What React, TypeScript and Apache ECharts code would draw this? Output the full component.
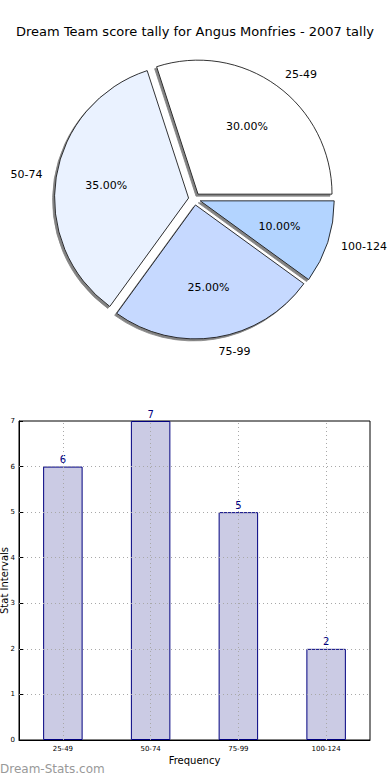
import React, { useEffect, useRef } from "react";
import * as echarts from "echarts";

const categories = ["25-49", "50-74", "75-99", "100-124"];
const counts = [6, 7, 5, 2];
const pieColors = ["#ffffff", "#eaf2ff", "#c6d9ff", "#b3d4ff"];
const yTicks = [0, 1, 2, 3, 4, 5, 6, 7];

const FONT = "DejaVu Sans";

export default function App() {
  const ref = useRef<HTMLDivElement>(null);
  useEffect(() => {
    if (!ref.current) return;
    const chart = echarts.init(ref.current, undefined, { renderer: "svg" });
    const R = 134;
    const center = [194.5, 199];
    const pieData = categories.map((c, i) => ({
      name: c,
      value: counts[i],
      selected: true,
      itemStyle: { color: pieColors[i] },
    }));
    const labelData = categories.map((c, i) => ({
      name: c,
      value: counts[i],
      selected: true,
    }));
    chart.setOption({
      animation: false,
      title: {
        text: "Dream Team score tally for Angus Monfries - 2007 tally",
        left: "center",
        top: 20,
        textStyle: { fontFamily: FONT, fontSize: 13, fontWeight: "normal", color: "#000" },
      },
      graphic: [
        {
          type: "text",
          left: 0,
          top: 763,
          style: {
            text: "Dream-Stats.com",
            fontFamily: FONT,
            fontSize: 12,
            fontWeight: "normal",
            fill: "#999999",
          },
        },
      ],
      grid: {
        left: 19,
        right: 20,
        top: 421,
        bottom: 40,
        show: true,
        borderColor: "#000",
        borderWidth: 1,
        containLabel: false,
        outerBoundsMode: "none",
      },
      xAxis: {
        type: "category",
        data: categories,
        axisLine: { lineStyle: { color: "#000" } },
        axisTick: { alignWithLabel: true, inside: true, length: 4, lineStyle: { color: "#000" } },
        axisLabel: { fontFamily: FONT, fontSize: 7, color: "#000", margin: 5 },
        name: "Frequency",
        nameLocation: "middle",
        nameGap: 15,
        nameMoveOverlap: false,
        nameTextStyle: { fontFamily: FONT, fontSize: 10, color: "#000" },
      },
      yAxis: {
        type: "value",
        min: 0,
        max: 7,
        interval: 1,
        axisLine: { show: true, lineStyle: { color: "#000" } },
        axisTick: { show: true, inside: true, length: 4, lineStyle: { color: "#000" } },
        axisLabel: { fontFamily: FONT, fontSize: 7, color: "#000", margin: 4 },
        splitLine: { show: false },
        name: "Stat Intervals",
        nameLocation: "middle",
        nameGap: 10,
        nameRotate: 90,
        nameMoveOverlap: false,
        nameTextStyle: { fontFamily: FONT, fontSize: 10, color: "#000" },
      },
      series: [
        {
          type: "pie",
          center,
          radius: [0, R],
          startAngle: 0,
          clockwise: false,
          selectedMode: "multiple",
          selectedOffset: 6,
          avoidLabelOverlap: false,
          data: pieData,
          itemStyle: {
            borderColor: "#000",
            borderWidth: 0.8,
            shadowColor: "rgba(100,100,100,0.8)",
            shadowOffsetX: -2,
            shadowOffsetY: 2,
            shadowBlur: 0,
          },
          select: { itemStyle: { borderColor: "#000", borderWidth: 0.8 } },
          emphasis: { disabled: true },
          label: {
            show: true,
            position: "outside",
            distanceToLabelLine: 0,
            fontFamily: FONT,
            fontSize: 11,
            color: "#000",
            formatter: "{b}",
          },
          labelLine: { show: false, length: 14, length2: 0 },
        },
        {
          type: "pie",
          center,
          radius: [R * 0.2, R],
          startAngle: 0,
          clockwise: false,
          selectedMode: "multiple",
          selectedOffset: 6,
          silent: true,
          avoidLabelOverlap: false,
          data: labelData,
          itemStyle: { color: "transparent", borderWidth: 0 },
          select: { itemStyle: { color: "transparent", borderWidth: 0 } },
          emphasis: { disabled: true },
          label: {
            show: true,
            position: "inside",
            fontFamily: FONT,
            fontSize: 11,
            color: "#000",
            formatter: (p: any) => p.percent.toFixed(2) + "%",
          },
          labelLine: { show: false },
        },
        {
          type: "bar",
          data: counts,
          barWidth: "45%",
          itemStyle: { color: "#cbcbe4", borderColor: "#000080", borderWidth: 1 },
          label: {
            show: true,
            position: "top",
            distance: 2,
            fontFamily: FONT,
            fontSize: 10,
            color: "#000080",
          },
          emphasis: { disabled: true },
          markLine: {
            silent: true,
            symbol: "none",
            label: { show: false },
            lineStyle: { type: [1, 3], color: "#a8a8a8", width: 1 },
            data: [
              ...categories.map((c) => ({ xAxis: c })),
              ...yTicks.slice(1, -1).map((v) => ({ yAxis: v })),
            ],
          },
        },
      ],
    });
    return () => chart.dispose();
  }, []);
  return (
    <div
      ref={ref}
      style={{ position: "fixed", left: 0, top: 0, width: 390, height: 780, background: "#fff" }}
    />
  );
}
